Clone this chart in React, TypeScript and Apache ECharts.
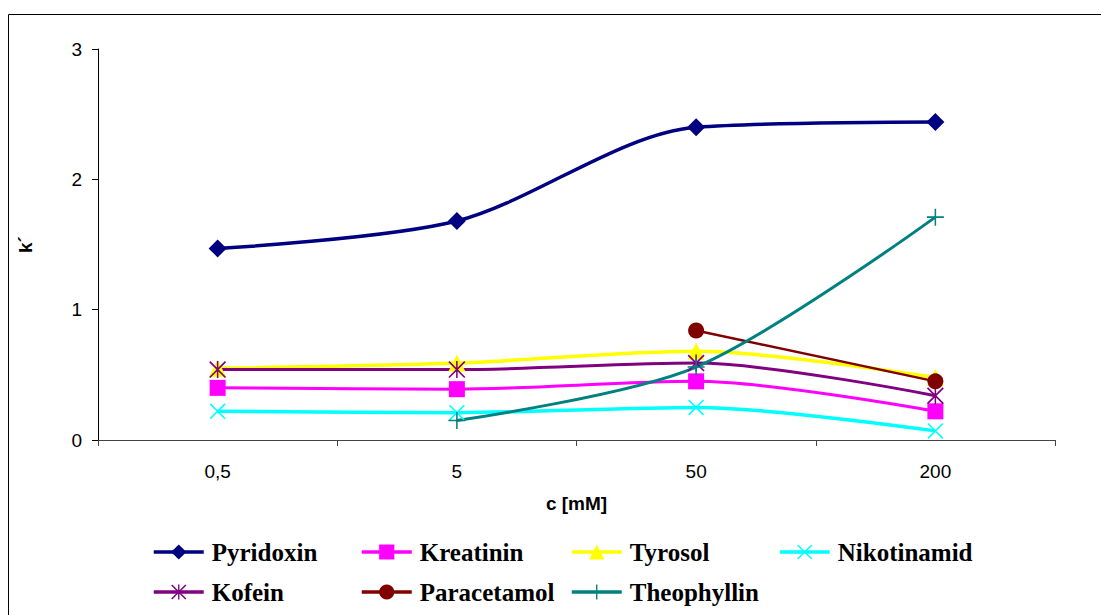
import React, { useEffect, useRef } from "react";
import * as echarts from "echarts";

// Concentration categories (x axis) and k' values for each compound
const categories = ["0,5", "5", "50", "200"];
const pyridoxin = [1.47, 1.68, 2.4, 2.44];
const kreatinin = [0.4, 0.39, 0.45, 0.22];
const tyrosol = [0.55, 0.59, 0.68, 0.48];
const nikotinamid = [0.22, 0.21, 0.25, 0.07];
const kofein = [0.54, 0.54, 0.59, 0.34];
const paracetamol = [null, null, 0.84, 0.45];
const theophyllin = [null, 0.15, 0.56, 1.71];
const yTicks = [0, 1, 2, 3];

// Stroke-like marker shapes built from thin filled polygons (same winding)
const crossX =
  "path://M0 1.4 L1.4 0 L20 18.6 L18.6 20 Z M1.4 20 L0 18.6 L18.6 0 L20 1.4 Z";
const asterisk =
  "path://M0 1.4 L1.4 0 L20 18.6 L18.6 20 Z M1.4 20 L0 18.6 L18.6 0 L20 1.4 Z M9.1 0 L10.9 0 L10.9 20 L9.1 20 Z";
const plus =
  "path://M9.1 0 L10.9 0 L10.9 20 L9.1 20 Z M0 9.1 L20 9.1 L20 10.9 L0 10.9 Z";

export default function App() {
  const ref = useRef<HTMLDivElement>(null);

  useEffect(() => {
    document.body.style.margin = "0";
    if (!ref.current) return;
    const chart = echarts.init(ref.current, null, { renderer: "svg" });

    const mk = (
      name: string,
      data: (number | null)[],
      color: string,
      symbol: string,
      symbolSize: number,
      width: number
    ) => ({
      name,
      type: "line",
      data,
      smooth: 0.3,
      symbol,
      symbolSize,
      showSymbol: true,
      itemStyle: { color },
      lineStyle: { color, width },
      emphasis: { disabled: true },
    });

    const legendBase = {
      orient: "vertical",
      top: 539,
      padding: 0,
      itemWidth: 50,
      itemHeight: 19,
      itemGap: 14,
      lineStyle: { width: 3.5 },
      textStyle: {
        fontFamily: "'Liberation Serif', 'Times New Roman', serif",
        fontWeight: "bold",
        fontSize: 25,
        color: "#000",
        lineHeight: 26,
        padding: [0, 0, 0, 3],
      },
      selectedMode: false,
    };

    chart.setOption({
      animation: false,
      backgroundColor: "#fff",
      graphic: [
        {
          type: "rect",
          shape: { x: 8.5, y: 14.5, width: 1200, height: 700 },
          style: { fill: "none", stroke: "#000", lineWidth: 1 },
          silent: true,
        },
      ],
      grid: { left: 98, right: 46, top: 49, bottom: 175 },
      legend: [
        { ...legendBase, left: 152, data: ["Pyridoxin", "Kofein"] },
        { ...legendBase, left: 360, data: ["Kreatinin", "Paracetamol"] },
        { ...legendBase, left: 570, data: ["Tyrosol", "Theophyllin"] },
        { ...legendBase, left: 778, data: ["Nikotinamid"] },
      ],
      xAxis: {
        type: "category",
        data: categories,
        boundaryGap: true,
        name: "c [mM]",
        nameLocation: "middle",
        nameGap: 54,
        nameTextStyle: {
          fontFamily: "'Liberation Sans', Arial, sans-serif",
          fontWeight: "bold",
          fontSize: 19,
          color: "#000",
        },
        axisLine: { lineStyle: { color: "#444", width: 1 } },
        axisTick: { show: true, length: 6, lineStyle: { color: "#444" } },
        axisLabel: {
          margin: 22,
          fontFamily: "'Liberation Sans', Arial, sans-serif",
          fontSize: 19,
          color: "#000",
        },
        splitLine: { show: false },
      },
      yAxis: {
        type: "value",
        min: yTicks[0],
        max: yTicks[yTicks.length - 1],
        interval: 1,
        name: "k´",
        nameLocation: "middle",
        nameGap: 63,
        nameRotate: 90,
        nameTextStyle: {
          fontFamily: "'Liberation Sans', Arial, sans-serif",
          fontWeight: "bold",
          fontSize: 19,
          color: "#000",
        },
        axisLine: { show: true, lineStyle: { color: "#000", width: 1 } },
        axisTick: { show: true, length: 6, lineStyle: { color: "#000" } },
        axisLabel: {
          margin: 16,
          fontFamily: "'Liberation Sans', Arial, sans-serif",
          fontSize: 19,
          color: "#000",
        },
        splitLine: { show: false },
      },
      series: [
        mk("Pyridoxin", pyridoxin, "#000080", "diamond", 18, 3.5),
        mk("Kreatinin", kreatinin, "#FF00FF", "rect", 16, 3),
        mk("Tyrosol", tyrosol, "#FFFF00", "triangle", 17, 3.5),
        mk("Nikotinamid", nikotinamid, "#00FFFF", crossX, 16, 3.5),
        mk("Kofein", kofein, "#800080", asterisk, 17, 3),
        mk("Paracetamol", paracetamol, "#800000", "circle", 16, 2.5),
        mk("Theophyllin", theophyllin, "#008080", plus, 17, 3),
      ],
    });

    return () => chart.dispose();
  }, []);

  return <div ref={ref} style={{ width: 1101, height: 615 }} />;
}
